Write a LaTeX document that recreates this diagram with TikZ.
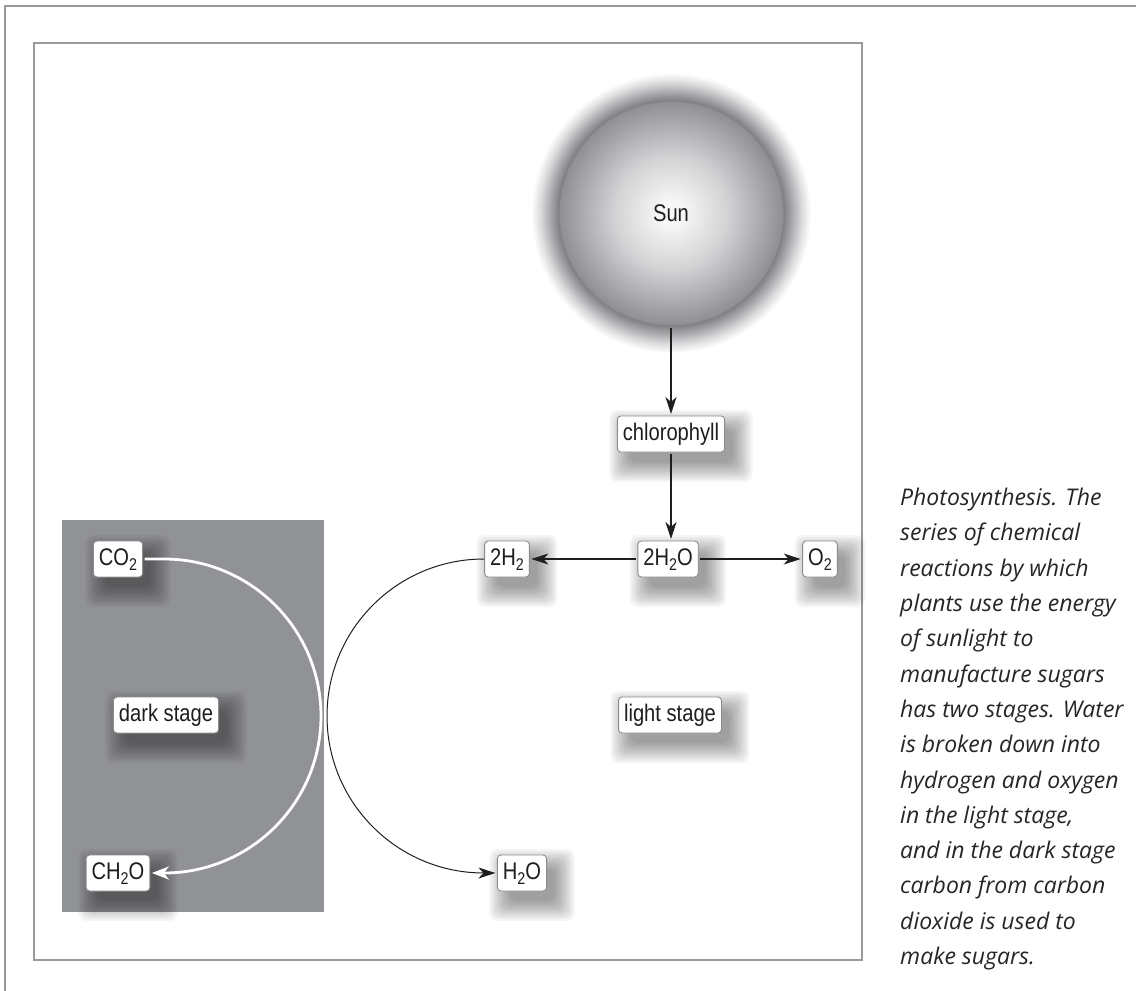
\documentclass[tikz,border=0pt]{standalone}
\usepackage{fontspec}
\setsansfont{Liberation Sans}[FakeStretch=0.84]
\newfontfamily\capfont{Open Sans}
\usetikzlibrary{arrows.meta}
\pgfdeclarelayer{back}
\pgfdeclarelayer{shadowlayer}
\pgfsetlayers{back,shadowlayer,main}
\newcommand\chemsub[1]{\raisebox{-0.22em}{\fontsize{17}{17}\selectfont #1}}
\definecolor{framegray}{HTML}{9A9A9A}
\definecolor{boxgray}{HTML}{8C8C8C}
\definecolor{darkfill}{HTML}{919296}
\definecolor{linecol}{HTML}{1E1E1E}
\definecolor{captext}{HTML}{262626}
\definecolor{sunA}{HTML}{F7F7F7}
\definecolor{sunM}{HTML}{D3D3D5}
\definecolor{sunB}{HTML}{909094}
\definecolor{sunC}{HTML}{7E7E82}
\definecolor{sunD}{HTML}{A9A9AC}
\definecolor{sunE}{HTML}{DCDCDE}
\pgfdeclareradialshading{sunshade}{\pgfpoint{0bp}{0bp}}{%
 color(0bp)=(sunA); color(2bp)=(sunA); color(10bp)=(sunM); color(19.9bp)=(sunB);
 color(20bp)=(sunC); color(21.6bp)=(sunD); color(23.4bp)=(sunE); color(25bp)=(white); color(50bp)=(white)}
\begin{document}
\begin{tikzpicture}[x=1pt,y=1pt,
  lbl/.style={draw=boxgray, line width=0.9pt, fill=white, rounded corners=3.5pt,
    font=\sffamily\fontsize{24}{24}\selectfont, text=linecol, text height=17pt, text depth=5pt,
    inner xsep=5.5pt, inner ysep=7pt, outer sep=2pt},
  softshadow/.style={black, opacity=0.04, rounded corners=8pt},
  arr/.style={draw=linecol, line width=1.2pt, -{Stealth[length=17pt,width=11pt,inset=5pt]}},
  warr/.style={draw=white, line width=2.8pt, -{Stealth[length=17pt,width=13pt,inset=5pt]}},
  ]
\useasboundingbox (0,0) rectangle (1136,-991);
\begin{pgfonlayer}{back}
\fill[white] (0,0) rectangle (1136,-991);
% frames
\draw[framegray, line width=2pt] (5,-991) -- (5,-6) -- (1136,-6);
\draw[framegray, line width=1.5pt] (34,-43) rectangle (862,-960);
% dark stage area
\fill[darkfill] (62,-520) rectangle (324,-912);
% sun
\shade[shading=sunshade] (671,-213) circle[radius=140];
\end{pgfonlayer}
\node[circle, minimum size=224pt, inner sep=0pt, outer sep=3pt,
  font=\sffamily\fontsize{24}{24}\selectfont, text=linecol] (sun) at (671,-213) {Sun};
% labels
\node[lbl] (chl) at (671,-434) {chlorophyll};
\node[lbl] (hho) at (668,-559) {2H\chemsub{2}O};
\node[lbl] (oo) at (820,-559) {O\chemsub{2}};
\node[lbl] (hh) at (507,-559) {2H\chemsub{2}};
\node[lbl] (ho) at (522,-873) {H\chemsub{2}O};
\node[lbl] (co) at (118,-559) {CO\chemsub{2}};
\node[lbl] (cho) at (118,-873) {CH\chemsub{2}O};
\node[lbl] (dark) at (166,-715) {dark stage};
\node[lbl] (light) at (670,-715) {light stage};
% soft drop shadows
\begin{pgfonlayer}{shadowlayer}
\foreach \n in {chl,hho,oo,hh,ho,co,cho,dark,light}{
  \foreach \s in {0,2,...,20}{
    \fill[softshadow] ([shift={(14-\s,-8-\s)}]\n.south west)
      rectangle ([shift={(6+\s,-16+\s)}]\n.north east);
  }
}
\end{pgfonlayer}
% connectors
\draw[arr] (sun) -- (chl);
\draw[arr] (chl) -- (chl |- hho.north);
\draw[arr] (hho) -- (oo);
\draw[arr] (hho) -- (hh);
\coordinate (btop) at (484,-559);
\draw[arr, line width=1pt] (hh.west) -- (btop) arc[start angle=90, end angle=270, radius=157] -- (ho.west);
\coordinate (wtop) at (164,-559);
\draw[warr] (co.east) -- (wtop) arc[start angle=90, end angle=-90, radius=157] -- (cho.east);
% caption
\node[anchor=north west, align=left, inner sep=0pt, text=captext,
  font=\capfont\itshape\fontsize{23}{35.3}\selectfont] (caption) at (900,-488)
 {Photosynthesis. The\\series of chemical\\reactions by which\\plants use the energy\\of sunlight to\\manufacture sugars\\has two stages. Water\\is broken down into\\hydrogen and oxygen\\in the light stage,\\and in the dark stage\\carbon from carbon\\dioxide is used to\\make sugars.};
\end{tikzpicture}
\end{document}
